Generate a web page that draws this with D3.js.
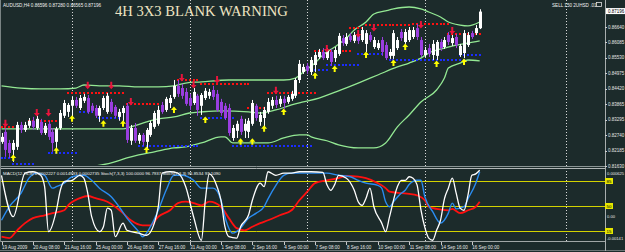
<!DOCTYPE html>
<html>
<head>
<meta charset="utf-8">
<script src="https://cdnjs.cloudflare.com/ajax/libs/d3/7.8.5/d3.min.js"></script>
<style>
  html, body { margin: 0; padding: 0; background: #1c2b2b; }
  svg { display: block; }
  text { font-family: "Liberation Sans", Arial, sans-serif; }
</style>
</head>
<body>
<svg id="chart" width="625" height="252"></svg>
<script>
// AUDUSD H4, 19 Aug - 16 Sep 2009, one entry per bar
var opens = [
  .8250,.8286,.8246,.8221,.8232,.8311,.8293,.8308,.8326,.8300,.8322,.8282,.8315,.8286,.8250,.8300,.8344,.8358,.8380,.8401,
  .8372,.8398,.8408,.8380,.8372,.8344,.8372,.8358,.8394,.8376,.8340,.8354,.8380,.8254,.8300,.8254,.8275,.8250,.8275,.8304,
  .8315,.8383,.8365,.8390,.8412,.8452,.8444,.8430,.8408,.8390,.8416,.8380,.8408,.8416,.8437,.8423,.8394,.8380,.8372,.8264,
  .8290,.8333,.8290,.8286,.8315,.8380,.8322,.8336,.8358,.8380,.8401,.8387,.8405,.8394,.8405,.8416,.8473,.8502,.8524,.8502,
  .8527,.8556,.8574,.8552,.8574,.8552,.8567,.8624,.8603,.8632,.8614,.8632,.8617,.8603,.8635,.8592,.8588,.8617,.8599,.8560,
  .8560,.8588,.8646,.8610,.8617,.8628,.8660,.8617,.8563,.8588,.8563,.8560,.8610,.8592,.8635,.8606,.8628,.8563,.8570,.8599,
  .8642,.8642,.86596];
var highs = [
  .8282,.8300,.8257,.8257,.8322,.8322,.8322,.8336,.8340,.8344,.8333,.8318,.8326,.8300,.8304,.8365,.8401,.8390,.8412,.8412,
  .8419,.8423,.8419,.8390,.8383,.8380,.8416,.8426,.8405,.8383,.8369,.8380,.8390,.8311,.8318,.8282,.8282,.8300,.8326,.8362,
  .8380,.8394,.8412,.8419,.8473,.8473,.8459,.8444,.8423,.8444,.8423,.8426,.8444,.8441,.8452,.8437,.8405,.8390,.8387,.8311,
  .8326,.8344,.8333,.8336,.8401,.8387,.8358,.8376,.8408,.8412,.8416,.8416,.8416,.8419,.8434,.8480,.8545,.8531,.8534,.8556,
  .8574,.8585,.8588,.8588,.8585,.8592,.8642,.8635,.8642,.8642,.8646,.8639,.8664,.8653,.8646,.8628,.8617,.8628,.8610,.8585,
  .8653,.8628,.8657,.8657,.8664,.8664,.8675,.8628,.8592,.8603,.8617,.8617,.8621,.8628,.8646,.8635,.8639,.8603,.8653,.8646,
  .8650,.8671,.87280];
var lows = [
  .8243,.8196,.8192,.8178,.8221,.8282,.8286,.8300,.8293,.8293,.8275,.8275,.8257,.8214,.8221,.8293,.8336,.8340,.8336,.8372,
  .8365,.8390,.8351,.8354,.8336,.8322,.8365,.8351,.8351,.8336,.8326,.8322,.8246,.8239,.8246,.8243,.8236,.8221,.8268,.8297,
  .8308,.8351,.8358,.8372,.8405,.8412,.8405,.8380,.8365,.8383,.8344,.8347,.8401,.8405,.8401,.8358,.8344,.8329,.8272,.8254,
  .8264,.8275,.8264,.8264,.8308,.8326,.8308,.8300,.8351,.8369,.8372,.8376,.8369,.8387,.8398,.8408,.8462,.8495,.8495,.8491,
  .8502,.8549,.8545,.8545,.8524,.8538,.8560,.8596,.8596,.8610,.8606,.8603,.8610,.8574,.8610,.8585,.8581,.8560,.8545,.8549,
  .8549,.8581,.8614,.8603,.8610,.8621,.8617,.8556,.8556,.8556,.8545,.8545,.8578,.8585,.8599,.8596,.8588,.8556,.8552,.8592,
  .8621,.8635,.86565];
var closes = [
  .8268,.8221,.8210,.8246,.8311,.8293,.8311,.8326,.8304,.8333,.8282,.8308,.8268,.8246,.8297,.8354,.8390,.8383,.8401,.8380,
  .8408,.8412,.8358,.8362,.8344,.8372,.8408,.8416,.8358,.8344,.8358,.8372,.8257,.8300,.8254,.8275,.8250,.8293,.8318,.8354,
  .8365,.8358,.8405,.8408,.8452,.8423,.8416,.8387,.8380,.8430,.8365,.8419,.8434,.8430,.8412,.8365,.8354,.8336,.8282,.8300,
  .8315,.8286,.8315,.8326,.8390,.8336,.8347,.8365,.8394,.8401,.8383,.8405,.8390,.8412,.8423,.8473,.8531,.8520,.8506,.8545,
  .8563,.8574,.8552,.8578,.8538,.8581,.8632,.8606,.8628,.8617,.8635,.8614,.8653,.8642,.8617,.8617,.8606,.8574,.8552,.8574,
  .8642,.8617,.8624,.8646,.8653,.8653,.8628,.8563,.8581,.8567,.8603,.8610,.8588,.8617,.8610,.8624,.8599,.8596,.8642,.8635,
  .8628,.8660,.87196];

// bollinger bands: [bar, price]
var upperBand = [[0,.8452],[5,.8444],[10,.8441],[15,.8441],[19,.8444],[21,.8455],[25,.8452],[30,.8452],[35,.8448],[40,.8448],
  [44,.8452],[47,.8462],[51,.8466],[58,.8473],[66,.8473],[72,.8473],[75,.8480],[77,.8502],[80,.8534],[82,.8563],[85,.8592],
  [88,.8624],[90,.8653],[93,.8682],[95,.8711],[98,.8722],[100,.8729],[104,.8736],[107,.8729],[109,.8718],[112,.8700],
  [114,.8682],[117,.8671],[119,.8668],[122,.8682]];
var midBand = [[0,.8297],[10,.8297],[20,.8297],[31,.8297],[33,.8304],[37,.8322],[40,.8333],[44,.8340],[48,.8354],[51,.8358],
  [56,.8362],[63,.8358],[66,.8354],[70,.8365],[74,.8383],[77,.8394],[81,.8408],[86,.8434],[91,.8462],[96,.8491],[101,.8520],
  [104,.8534],[107,.8552],[109,.8570],[113,.8588],[116,.8599],[119,.8606],[122,.8614]];
var lowerBand = [[0,.8128],[10,.8133],[18,.8146],[21,.8156],[28,.8174],[32,.8192],[35,.8203],[39,.8214],[44,.8228],[47,.8232],
  [51,.8246],[56,.8268],[57,.8268],[59,.8246],[63,.8246],[68,.8246],[72,.8264],[76,.8275],[78,.8275],[79,.8268],[83,.8254],
  [86,.8239],[91,.8228],[95,.8228],[98,.8246],[101,.8304],[104,.8347],[107,.8394],[111,.8437],[113,.8480],[114,.8516],
  [117,.8534],[119,.8545],[122,.8542]];

// dotted levels: [first bar, last bar, price]
var redDots = [[0,3,.8304],[7,14,.8326],[17,31,.8426],[32,40,.8387],[45,50,.8473],[51,63,.8459],[63,67,.8372],
  [68,80,.8426],[80,89,.8578],[89,92,.8660],[93,104,.8671],[105,114,.8675],[114,122,.8639]];
var blueDots = [[0,2,.8192],[3,8,.8171],[12,19,.8210],[20,23,.8358],[25,30,.8336],[35,50,.8236],[51,59,.8336],
  [59,79,.8236],[80,83,.8509],[83,91,.8527],[91,97,.8567],[99,118,.8545],[117,122,.8563]];

// signal arrows: [bar, price]
var sellArrows = [[1,.8315],[9,.8354],[12,.8354],[22,.8452],[28,.8452],[33,.8394],[46,.8480],[49,.8455],[55,.8473],
  [70,.8434],[83,.8585],[91,.8639],[95,.8660],[107,.8671],[115,.8650]];
var buyArrows = [[3,.8192],[14,.8218],[18,.8333],[26,.8315],[31,.8315],[37,.8221],[44,.8365],[52,.8329],[61,.8250],
  [64,.8250],[67,.8297],[72,.8358],[80,.8488],[85,.8513],[93,.8563],[100,.8534],[103,.8592],[111,.8531],[118,.8538]];

// lower window lines: [bar, value]
var stochMain = [[0,93],[3,35],[6,96],[8,98],[10,93],[11,77],[12,14],[14,44],[15,72],[16,84],[18,86],[20,93],[21,89],
  [22,68],[23,35],[25,14],[26,21],[27,47],[28,44],[29,7],[31,26],[32,16],[35,12],[37,9],[39,26],[40,49],[41,96],[43,98],
  [45,96],[47,77],[49,35],[51,2],[52,58],[53,95],[55,77],[56,58],[57,21],[58,7],[60,5],[61,21],[63,37],[64,58],[66,82],
  [67,77],[68,98],[70,93],[72,96],[74,96],[76,98],[79,98],[82,97],[83,80],[84,72],[85,80],[86,93],[88,89],[90,72],[91,56],
  [92,51],[93,61],[94,75],[95,49],[97,26],[98,14],[99,35],[101,77],[102,86],[103,86],[104,91],[105,89],[106,80],[107,45],
  [108,20],[109,5],[110,2],[111,16],[112,30],[113,60],[114,75],[115,89],[116,68],[117,47],[118,44],[119,65],[120,93],
  [121,95],[122,100]];
var stochSignal = [[0,30],[2,49],[5,68],[7,89],[9,96],[11,93],[13,75],[14,77],[16,82],[18,91],[21,93],[23,86],[25,75],
  [28,63],[30,49],[32,33],[35,14],[36,7],[38,21],[40,44],[42,72],[44,93],[46,93],[49,86],[51,75],[54,75],[56,58],[57,35],
  [59,12],[61,19],[63,33],[65,40],[67,49],[68,60],[70,79],[72,93],[74,96],[76,96],[80,96],[83,96],[86,93],[89,91],[91,86],
  [93,82],[96,79],[97,75],[98,56],[99,49],[100,56],[102,68],[103,72],[104,80],[106,86],[107,86],[108,63],[110,42],
  [112,26],[114,40],[115,54],[116,46],[118,49],[119,60],[121,82],[122,98]];
var macdMain = [[0,7],[2,5],[4,16],[6,26],[8,33],[11,37],[13,40],[16,44],[17,51],[20,61],[22,64],[24,61],[27,56],[29,49],
  [31,40],[33,30],[36,23],[38,23],[40,35],[43,44],[45,54],[47,56],[49,54],[51,51],[53,56],[56,49],[58,33],[60,19],[62,16],
  [64,21],[66,26],[68,30],[71,37],[74,44],[76,58],[78,70],[80,82],[83,86],[86,89],[88,92],[91,91],[93,89],[96,82],[98,75],
  [99,70],[102,68],[104,67],[106,65],[108,58],[109,49],[111,46],[114,44],[115,46],[117,40],[119,44],[121,49],[122,56]];

var timeLabels = ["19 Aug 2009","20 Aug 08:00","21 Aug 16:00","25 Aug 00:00","26 Aug 08:00","27 Aug 16:00",
  "31 Aug 00:00","1 Sep 08:00","2 Sep 16:00","4 Sep 00:00","7 Sep 08:00","8 Sep 16:00","10 Sep 00:00",
  "11 Sep 08:00","14 Sep 16:00","16 Sep 00:00"];
var weekSeparators = [18, 48, 78, 108, 144];
var priceTicks = [0.86640, 0.86085, 0.85530, 0.84975, 0.84420, 0.83865, 0.83295, 0.82740, 0.82185, 0.81630];
var levels = [85, 50, 15];
var subTicks = [[96, "0.000625"], [35, "0.00"], [4, "-0.00141"]];
var lastPrice = 0.87196;

var svg = d3.select('#chart');
var axisX = 605;

var x = d3.scaleLinear().domain([0, 122]).range([1.5, 479.7]);
var y = d3.scaleLinear().domain([0.8163, 0.8664]).range([166, 27]);
var ys = d3.scaleLinear().domain([0, 100]).range([241.7, 170.3]);

svg.append('rect').attr('width', 625).attr('height', 252).attr('fill', '#1c2b2b');

var defs = svg.append('defs');
defs.append('clipPath').attr('id', 'clipMain')
  .append('rect').attr('x', 0).attr('y', 0).attr('width', axisX).attr('height', 165);
defs.append('clipPath').attr('id', 'clipSub')
  .append('rect').attr('x', 0).attr('y', 169).attr('width', axisX).attr('height', 72);

// period separators
svg.selectAll('line.sep').data(weekSeparators).enter().append('line')
  .attr('class', 'sep')
  .attr('x1', function(d){ return Math.round(x(d)) + 0.5; })
  .attr('x2', function(d){ return Math.round(x(d)) + 0.5; })
  .attr('y1', 0).attr('y2', 241)
  .attr('stroke', '#d8d8d8').attr('stroke-width', 1).attr('stroke-dasharray', '1,2');

var main = svg.append('g').attr('clip-path', 'url(#clipMain)');

// bands
var bandLine = d3.line()
  .x(function(d){ return x(d[0]); })
  .y(function(d){ return y(d[1]); })
  .curve(d3.curveMonotoneX);

main.selectAll('path.band').data([upperBand, midBand, lowerBand]).enter().append('path')
  .attr('class', 'band')
  .attr('d', bandLine)
  .attr('fill', 'none').attr('stroke', '#93e893').attr('stroke-width', 1.3);

// dotted support / resistance
var flatDots = function(segs) {
  var out = [];
  segs.forEach(function(s) {
    d3.range(s[0], s[1] + 1).forEach(function(b){ out.push([b, s[2]]); });
  });
  return out;
};

main.selectAll('rect.rdot').data(flatDots(redDots)).enter().append('rect')
  .attr('class', 'rdot')
  .attr('x', function(d){ return Math.round(x(d[0])) - 1; })
  .attr('y', function(d){ return Math.round(y(d[1])) - 1; })
  .attr('width', 2).attr('height', 2).attr('fill', '#ff1010');

main.selectAll('rect.bdot').data(flatDots(blueDots)).enter().append('rect')
  .attr('class', 'bdot')
  .attr('x', function(d){ return Math.round(x(d[0])) - 1; })
  .attr('y', function(d){ return Math.round(y(d[1])) - 1; })
  .attr('width', 2).attr('height', 2).attr('fill', '#1a2cff');

// candles
var bars = opens.map(function(o, i){
  return {i: i, o: o, h: highs[i], l: lows[i], c: closes[i]};
});
var bull = '#ffffff', bear = '#9a3ee0';

var candle = main.selectAll('g.candle').data(bars).enter().append('g').attr('class', 'candle');
candle.append('line')
  .attr('x1', function(d){ return Math.round(x(d.i)) + 0.5; })
  .attr('x2', function(d){ return Math.round(x(d.i)) + 0.5; })
  .attr('y1', function(d){ return y(d.h); })
  .attr('y2', function(d){ return y(d.l); })
  .attr('stroke', function(d){ return d.c >= d.o ? bull : bear; })
  .attr('stroke-width', 1);
candle.append('rect')
  .attr('x', function(d){ return Math.round(x(d.i)) - 1; })
  .attr('width', 3)
  .attr('y', function(d){ return y(Math.max(d.o, d.c)); })
  .attr('height', function(d){ return Math.max(1, Math.abs(y(d.o) - y(d.c))); })
  .attr('fill', function(d){ return d.c >= d.o ? bull : bear; });

// arrows
main.selectAll('path.sell').data(sellArrows).enter().append('path')
  .attr('class', 'sell')
  .attr('transform', function(d){ return 'translate(' + x(d[0]) + ',' + y(d[1]) + ')'; })
  .attr('d', 'M-1,-4L1,-4L1,0L3,0L0,3.5L-3,0L-1,0Z')
  .attr('fill', '#e8143c');

main.selectAll('path.buy').data(buyArrows).enter().append('path')
  .attr('class', 'buy')
  .attr('transform', function(d){ return 'translate(' + x(d[0]) + ',' + y(d[1]) + ')'; })
  .attr('d', 'M-1,3L1,3L1,0L3,0L0,-3.5L-3,0L-1,0Z')
  .attr('fill', '#ffff00');

// lower window
svg.selectAll('line.level').data(levels).enter().append('line')
  .attr('class', 'level')
  .attr('x1', 0).attr('x2', axisX)
  .attr('y1', function(d){ return Math.round(ys(d)) + 0.5; })
  .attr('y2', function(d){ return Math.round(ys(d)) + 0.5; })
  .attr('stroke', '#d2d200').attr('stroke-width', 1);

var sub = svg.append('g').attr('clip-path', 'url(#clipSub)');
var subLine = d3.line()
  .x(function(d){ return x(d[0]); })
  .y(function(d){ return ys(d[1]); })
  .curve(d3.curveMonotoneX);

sub.append('path').datum(macdMain).attr('d', subLine)
  .attr('fill', 'none').attr('stroke', '#ff1010').attr('stroke-width', 1.8);
sub.append('path').datum(stochSignal).attr('d', subLine)
  .attr('fill', 'none').attr('stroke', '#2a8cf0').attr('stroke-width', 1.4);
sub.append('path').datum(stochMain).attr('d', subLine)
  .attr('fill', 'none').attr('stroke', '#ffffff').attr('stroke-width', 1.3);

// borders
svg.append('line').attr('x1', 0).attr('x2', axisX).attr('y1', 166.5).attr('y2', 166.5)
  .attr('stroke', '#8a9494').attr('stroke-width', 1);
svg.append('line').attr('x1', 0).attr('x2', axisX).attr('y1', 168.5).attr('y2', 168.5)
  .attr('stroke', '#b0b6b6').attr('stroke-width', 1);
svg.append('line').attr('x1', 0).attr('x2', axisX).attr('y1', 241.5).attr('y2', 241.5)
  .attr('stroke', '#a0a6a6').attr('stroke-width', 1);
svg.append('line').attr('x1', 0).attr('x2', 625).attr('y1', 250.5).attr('y2', 250.5)
  .attr('stroke', '#6a7474').attr('stroke-width', 1);
svg.append('line').attr('x1', 0.5).attr('x2', 0.5).attr('y1', 0).attr('y2', 242)
  .attr('stroke', '#7a8484').attr('stroke-width', 1);
svg.append('line').attr('x1', axisX + 0.5).attr('x2', axisX + 0.5).attr('y1', 0).attr('y2', 251)
  .attr('stroke', '#a8aeae').attr('stroke-width', 1);

// price axis
var pa = svg.append('g').attr('class', 'priceAxis');
pa.selectAll('line').data(priceTicks).enter().append('line')
  .attr('x1', axisX).attr('x2', axisX + 2)
  .attr('y1', function(d){ return Math.round(y(d)) + 0.5; })
  .attr('y2', function(d){ return Math.round(y(d)) + 0.5; })
  .attr('stroke', '#d0d0d0');
pa.selectAll('text').data(priceTicks).enter().append('text')
  .attr('x', axisX + 3).attr('y', function(d){ return y(d) + 1.6; })
  .attr('font-size', 4.5).attr('fill', '#e6e6e6')
  .text(function(d){ return d.toFixed(5); });

pa.append('rect').attr('x', axisX + 1).attr('y', y(lastPrice) - 3.5)
  .attr('width', 19).attr('height', 6).attr('fill', '#ffffff');
pa.append('text').attr('x', axisX + 3).attr('y', y(lastPrice) + 1.6)
  .attr('font-size', 4.5).attr('fill', '#000000').text(lastPrice.toFixed(5));

// lower window axis
var sa = svg.append('g');
sa.selectAll('rect').data(levels).enter().append('rect')
  .attr('x', axisX).attr('y', function(d){ return ys(d) - 3; })
  .attr('width', 8).attr('height', 6).attr('fill', '#e6e600');
sa.selectAll('text.lv').data(levels).enter().append('text')
  .attr('class', 'lv')
  .attr('x', axisX + 4).attr('y', function(d){ return ys(d) + 1.6; })
  .attr('text-anchor', 'middle').attr('font-size', 4.4).attr('fill', '#000000')
  .text(function(d){ return d; });
sa.selectAll('text.st').data(subTicks).enter().append('text')
  .attr('class', 'st')
  .attr('x', axisX + 2).attr('y', function(d){ return ys(d[0]) + 1.6; })
  .attr('font-size', 4.1).attr('fill', '#e6e6e6')
  .text(function(d){ return d[1]; });

// time axis
var ta = svg.append('g');
var labelBars = timeLabels.map(function(t, k){ return {b: k * 8, t: t}; });
ta.selectAll('line').data(labelBars).enter().append('line')
  .attr('x1', function(d){ return Math.round(x(d.b)) + 0.5; })
  .attr('x2', function(d){ return Math.round(x(d.b)) + 0.5; })
  .attr('y1', 242).attr('y2', 245)
  .attr('stroke', '#c8c8c8');
ta.selectAll('text').data(labelBars).enter().append('text')
  .attr('x', function(d){ return x(d.b) + 0.5; })
  .attr('y', 248.5)
  .attr('font-size', 4.5).attr('fill', '#e6e6e6')
  .text(function(d){ return d.t; });

// headers
svg.append('text').attr('x', 3).attr('y', 6.5).attr('font-size', 4.6).attr('fill', '#f0f0f0')
  .text('AUDUSD,H4  0.86596 0.87280 0.86565 0.87196');
svg.append('text').attr('x', 3).attr('y', 174.5).attr('font-size', 4.4).attr('fill', '#f0f0f0')
  .text('MACD(12,26,9) 0.0002227 0.0014993 0.0002735  Stoch(7,3,3) 100.0000 96.7937  Stoch(7,3,3) 96.8534 97.1090');
svg.append('text').attr('x', 552).attr('y', 6.5).attr('font-size', 4.6).attr('fill', '#f0f0f0')
  .text('SELL 150 2UHSD .01');
svg.append('rect').attr('x', 596.5).attr('y', 2.5).attr('width', 5).attr('height', 4)
  .attr('fill', 'none').attr('stroke', '#e0e0e0').attr('stroke-width', 0.8);

svg.append('text')
  .attr('x', 115).attr('y', 15.5)
  .style('font-family', '"Liberation Serif", "DejaVu Serif", serif')
  .attr('font-size', 14.6)
  .attr('fill', '#efe4c2')
  .text('4H 3X3 BLANK WARNING');
</script>
</body>
</html>
